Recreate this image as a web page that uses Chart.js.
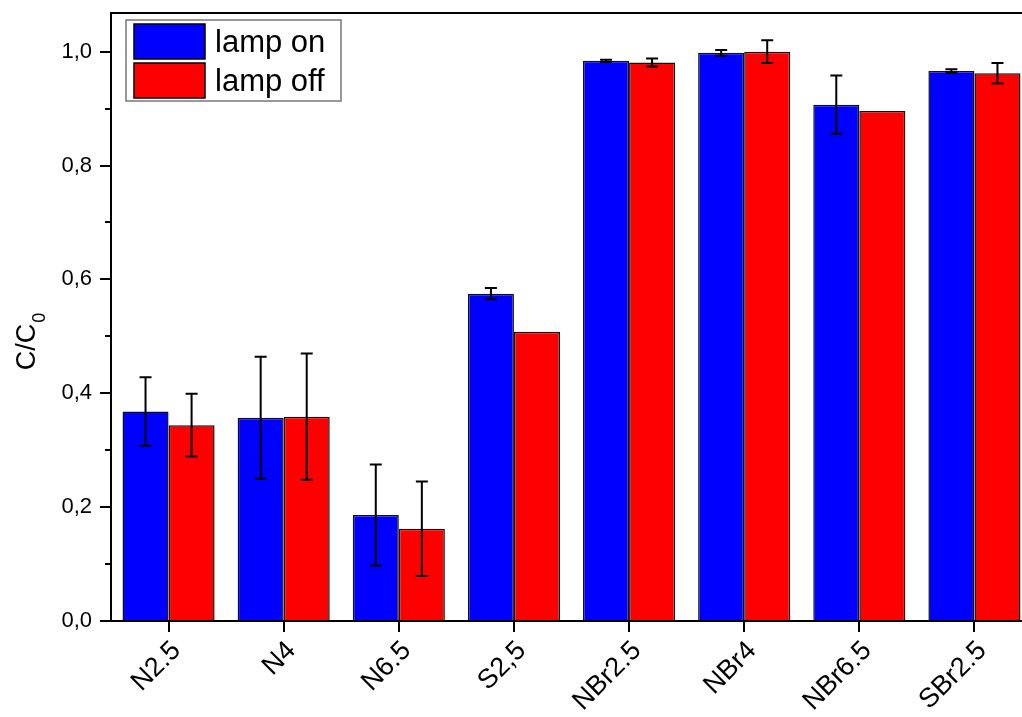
<!DOCTYPE html>
<html>
<head>
<meta charset="utf-8">
<script src="https://cdn.jsdelivr.net/npm/chart.js@4.4.0/dist/chart.umd.min.js"></script>
<style>
  html, body { margin: 0; padding: 0; overflow: hidden; background: #fff; }
  #wrap { width: 1022px; height: 717px; overflow: hidden; }
</style>
</head>
<body>
<div id="wrap"><canvas id="barChart" width="1032" height="717"></canvas></div>
<script>
// samples
var categories = ['N2.5', 'N4', 'N6.5', 'S2,5', 'NBr2.5', 'NBr4', 'NBr6.5', 'SBr2.5'];
// C/C0 values
var lampOn  = [0.368, 0.357, 0.186, 0.575, 0.984, 0.998, 0.907, 0.966];
var lampOff = [0.344, 0.359, 0.162, 0.508, 0.981, 1.000, 0.896, 0.962];
// error bars (+/-)
var lampOnErr  = [0.060, 0.107, 0.089, 0.010, 0.002, 0.005, 0.051, 0.003];
var lampOffErr = [0.055, 0.111, 0.083, 0.000, 0.007, 0.020, 0.000, 0.018];
var yMajorTicks = [0, 0.2, 0.4, 0.6, 0.8, 1.0];

var fontFamily = 'Arial, "Liberation Sans", sans-serif';

// error bars drawn at each bar through the y scale
var errorBars = {
    id: 'errorBars',
    afterDatasetsDraw: function (chart) {
        var ctx = chart.ctx;
        var y = chart.scales.y;
        var errs = [lampOnErr, lampOffErr];
        ctx.save();
        ctx.strokeStyle = '#000';
        ctx.lineWidth = 2;
        chart.data.datasets.forEach(function (ds, d) {
            var meta = chart.getDatasetMeta(d);
            meta.data.forEach(function (bar, i) {
                var e = errs[d][i];
                if (!e) return;
                var top = y.getPixelForValue(ds.data[i] + e);
                var bot = y.getPixelForValue(ds.data[i] - e);
                ctx.beginPath();
                ctx.moveTo(bar.x, top); ctx.lineTo(bar.x, bot);
                ctx.moveTo(bar.x - 6, top); ctx.lineTo(bar.x + 6, top);
                ctx.moveTo(bar.x - 6, bot); ctx.lineTo(bar.x + 6, bot);
                ctx.stroke();
            });
        });
        ctx.restore();
    }
};

// frame, ticks, axis title and legend
var frame = {
    id: 'frame',
    afterDraw: function (chart) {
        var ctx = chart.ctx;
        var a = chart.chartArea;
        var y = chart.scales.y;
        var x = chart.scales.x;
        ctx.save();
        ctx.strokeStyle = '#000';
        ctx.lineWidth = 2;
        ctx.strokeRect(a.left, a.top, a.right - a.left, a.bottom - a.top);

        // y ticks: major 0.2, minor 0.1
        ctx.beginPath();
        for (var v = 0; v <= 1.0001; v += 0.1) {
            var py = Math.round(y.getPixelForValue(v));
            var major = Math.round(v * 10) % 2 === 0;
            ctx.moveTo(a.left - (major ? 11 : 6), py);
            ctx.lineTo(a.left, py);
        }
        // x ticks
        categories.forEach(function (c, i) {
            var px = Math.round(x.getPixelForValue(i));
            ctx.moveTo(px, a.bottom);
            ctx.lineTo(px, a.bottom + 11);
        });
        ctx.stroke();

        // y axis title C/C0
        ctx.fillStyle = '#000';
        ctx.translate(35, 342);
        ctx.rotate(-Math.PI / 2);
        ctx.font = '27px ' + fontFamily;
        var main = 'C/C';
        var w1 = ctx.measureText(main).width;
        ctx.font = '18px ' + fontFamily;
        var w2 = ctx.measureText('0').width;
        ctx.textBaseline = 'alphabetic';
        ctx.font = '27px ' + fontFamily;
        ctx.fillText(main, -(w1 + w2) / 2, 0);
        ctx.font = '18px ' + fontFamily;
        ctx.fillText('0', -(w1 + w2) / 2 + w1 + 1, 10);
        ctx.setTransform(1, 0, 0, 1, 0, 0);

        // legend
        var lx = a.left + 15, ly = a.top + 7;
        ctx.lineWidth = 1.5;
        ctx.strokeStyle = '#777';
        ctx.fillStyle = '#fff';
        ctx.fillRect(lx, ly, 215, 81);
        ctx.strokeRect(lx, ly, 215, 81);
        ctx.font = '31px ' + fontFamily;
        ctx.textBaseline = 'middle';
        chart.data.datasets.forEach(function (ds, d) {
            var sy = ly + 4 + d * 39;
            ctx.fillStyle = ds.backgroundColor;
            ctx.fillRect(lx + 8, sy, 71, 35);
            ctx.strokeStyle = '#000';
            ctx.lineWidth = 1.5;
            ctx.strokeRect(lx + 8, sy, 71, 35);
            ctx.fillStyle = '#000';
            ctx.fillText(ds.label, lx + 89, sy + 19);
        });
        ctx.restore();
    }
};

var ctxBar = document.getElementById('barChart').getContext('2d');
var barChart = new Chart(ctxBar, {
    type: 'bar',
    data: {
        labels: categories,
        datasets: [{
            label: 'lamp on',
            data: lampOn,
            backgroundColor: '#0000ff',
            borderColor: '#111',
            borderWidth: 1.5,
            categoryPercentage: 0.8,
            barPercentage: 1.0
        }, {
            label: 'lamp off',
            data: lampOff,
            backgroundColor: '#ff0000',
            borderColor: '#111',
            borderWidth: 1.5,
            categoryPercentage: 0.8,
            barPercentage: 1.0
        }]
    },
    options: {
        responsive: false,
        animation: false,
        devicePixelRatio: 1,
        layout: { padding: { top: 13, right: 0, left: 0, bottom: 0 } },
        plugins: {
            legend: { display: false },
            tooltip: { enabled: false }
        },
        scales: {
            x: {
                offset: true,
                grid: { display: false, drawTicks: false },
                border: { display: false },
                ticks: {
                    color: '#000',
                    font: { family: fontFamily, size: 27 },
                    minRotation: 45,
                    maxRotation: 45,
                    padding: 14,
                    labelOffset: 8,
                    autoSkip: false
                },
                afterFit: function (s) {
                    s.height = 96;
                    s.paddingLeft = 0; s.paddingRight = 0;
                }
            },
            y: {
                min: 0,
                max: 1.068,
                grid: { display: false, drawTicks: false },
                border: { display: false },
                afterBuildTicks: function (s) {
                    s.ticks = yMajorTicks.map(function (v) { return { value: v }; });
                },
                ticks: {
                    color: '#000',
                    font: { family: fontFamily, size: 22 },
                    padding: 19,
                    callback: function (v) { return v.toFixed(1).replace('.', ','); }
                },
                afterFit: function (s) {
                    s.width = 111;
                    s.paddingTop = 0; s.paddingBottom = 0;
                }
            }
        }
    },
    plugins: [errorBars, frame]
});
</script>
</body>
</html>
